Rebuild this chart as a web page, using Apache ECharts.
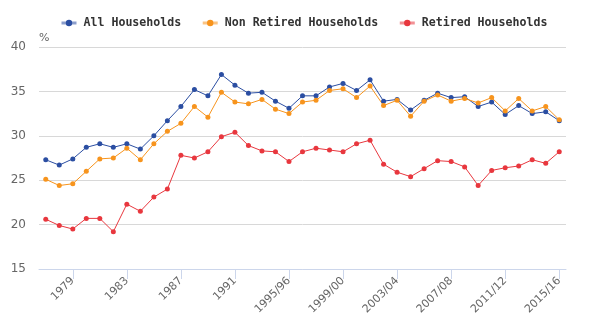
<!DOCTYPE html>
<html>
<head>
<meta charset="utf-8">
<script src="https://cdn.jsdelivr.net/npm/echarts@6/dist/echarts.min.js"></script>
<style>
  html, body { margin: 0; padding: 0; background: #fff; }
  #chart { width: 600px; height: 336px; }
</style>
</head>
<body>
<div id="chart"></div>
<script>
// Years / financial years on the x axis
const categories = [
  '1977', '1978', '1979', '1980', '1981', '1982', '1983', '1984', '1985', '1986',
  '1987', '1988', '1989', '1990', '1991', '1992', '1993', '1994/95', '1995/96', '1996/97',
  '1997/98', '1998/99', '1999/00', '2000/01', '2001/02', '2002/03', '2003/04', '2004/05', '2005/06', '2006/07',
  '2007/08', '2008/09', '2009/10', '2010/11', '2011/12', '2012/13', '2013/14', '2014/15', '2015/16'
];

// Values in %
const allHouseholds = [
  27.3, 26.7, 27.4, 28.7, 29.1, 28.7, 29.1, 28.5, 30.0, 31.7,
  33.3, 35.2, 34.5, 36.9, 35.7, 34.8, 34.9, 33.9, 33.1, 34.5,
  34.5, 35.5, 35.9, 35.1, 36.3, 33.9, 34.1, 32.9, 34.0, 34.8,
  34.3, 34.4, 33.3, 33.8, 32.4, 33.4, 32.5, 32.7, 31.7
];
const nonRetiredHouseholds = [
  25.1, 24.4, 24.6, 26.0, 27.4, 27.5, 28.6, 27.3, 29.1, 30.5,
  31.4, 33.3, 32.1, 34.9, 33.8, 33.6, 34.1, 33.0, 32.5, 33.8,
  34.0, 35.1, 35.3, 34.3, 35.6, 33.4, 34.0, 32.2, 33.9, 34.6,
  33.9, 34.2, 33.7, 34.3, 32.8, 34.2, 32.8, 33.3, 31.8
];
const retiredHouseholds = [
  20.6, 19.9, 19.5, 20.7, 20.7, 19.2, 22.3, 21.5, 23.1, 24.0,
  27.8, 27.5, 28.2, 29.9, 30.4, 28.9, 28.3, 28.2, 27.1, 28.2,
  28.6, 28.4, 28.2, 29.1, 29.5, 26.8, 25.9, 25.4, 26.3, 27.2,
  27.1, 26.5, 24.4, 26.1, 26.4, 26.6, 27.3, 26.9, 28.2
];

const seriesNames = ['All Households', 'Non Retired Households', 'Retired Households'];
const colors = ['#2b4ea2', '#f7941d', '#e8373e'];

// Label every fourth category, starting at 1979
const every4th = (idx) => idx % 4 === 2;

function lineSeries(name, data, color) {
  return {
    name: name,
    type: 'line',
    data: data,
    symbol: 'circle',
    symbolSize: 5,
    showSymbol: true,
    itemStyle: { color: color },
    lineStyle: { color: color, width: 1 },
    emphasis: { disabled: true },
    animation: false
  };
}

const chart = echarts.init(document.getElementById('chart'), null, { renderer: 'canvas' });
chart.setOption({
  animation: false,
  color: colors,
  legend: {
    data: seriesNames,
    top: 12,
    left: 55,
    itemWidth: 15,
    itemHeight: 8,
    itemGap: 20,
    lineStyle: { width: 3, opacity: 0.55 },
    textStyle: {
      fontFamily: 'DejaVu Sans Mono',
      fontWeight: 'bold',
      fontSize: 11.6,
      color: '#333',
      padding: [0, 0, 0, 2]
    }
  },
  grid: { left: 39, right: 34, top: 47, bottom: 67, containLabel: false },
  xAxis: {
    type: 'category',
    data: categories,
    boundaryGap: true,
    axisLine: { lineStyle: { color: '#ccd6eb', width: 1 } },
    axisTick: {
      show: true,
      alignWithLabel: true,
      interval: every4th,
      length: 10,
      lineStyle: { color: '#ccd6eb' }
    },
    axisLabel: {
      interval: every4th,
      rotate: 45,
      margin: 10,
      color: '#666',
      fontFamily: 'DejaVu Sans',
      fontSize: 11
    },
    splitLine: { show: false }
  },
  yAxis: {
    type: 'value',
    min: 15,
    max: 40,
    interval: 5,
    name: '%',
    nameLocation: 'end',
    nameGap: 3,
    nameTextStyle: {
      align: 'left',
      color: '#666',
      fontFamily: 'DejaVu Sans',
      fontSize: 11
    },
    axisLine: { show: false },
    axisTick: { show: false },
    axisLabel: {
      color: '#666',
      fontFamily: 'DejaVu Sans',
      fontSize: 12,
      margin: 13
    },
    splitLine: { lineStyle: { color: '#d8d8d8', width: 1 } }
  },
  series: [
    lineSeries(seriesNames[0], allHouseholds, colors[0]),
    lineSeries(seriesNames[1], nonRetiredHouseholds, colors[1]),
    lineSeries(seriesNames[2], retiredHouseholds, colors[2])
  ]
});
</script>
</body>
</html>
